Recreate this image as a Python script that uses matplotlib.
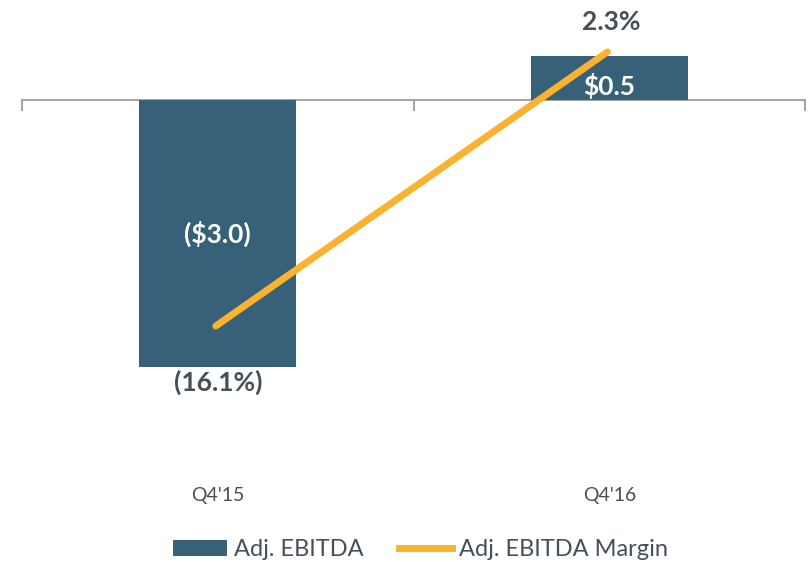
import numpy as np
import matplotlib.pyplot as plt
from matplotlib.lines import Line2D
from matplotlib.patches import Patch

plt.rcParams['font.family'] = ['Lato', 'DejaVu Sans']

quarters = ["Q4'15", "Q4'16"]
ebitda = [-3.0, 0.5]
ebitda_labels = ['($3.0)', '$0.5']
margin = [-16.1, 2.3]
margin_labels = ['(16.1%)', '2.3%']

bar_color = '#376079'
line_color = '#FBB22E'
text_color = '#44505A'
axis_color = '#A6A6A6'

fig = plt.figure(figsize=(8.09, 5.62), dpi=100)
ax = fig.add_axes([0.0272, 0.1886, 0.968, 0.7918])
x = np.arange(len(quarters))

ax.bar(x, ebitda, width=0.4, color=bar_color, zorder=2)
ax.set_xlim(-0.5, 1.5)
ax.set_ylim(-4, 1)

# category axis drawn through zero with boundary ticks
for s in ['top', 'right', 'left']:
    ax.spines[s].set_visible(False)
ax.spines['bottom'].set_position(('data', 0))
ax.spines['bottom'].set_color(axis_color)
ax.spines['bottom'].set_linewidth(1.5)
ax.spines['bottom'].set_zorder(1)
ax.set_xticks([-0.5, 0.5, 1.5])
ax.set_xticklabels([])
ax.tick_params(axis='x', direction='out', length=8, width=1.5, color=axis_color)
ax.set_yticks([])

for i, q in enumerate(quarters):
    ax.text(x[i], -0.088, q, transform=ax.get_xaxis_transform(),
            ha='center', va='center', fontsize=14, color=text_color)

# bar value labels
ax.text(x[0], ebitda[0] / 2, ebitda_labels[0], ha='center', va='center',
        color='white', fontsize=19, fontweight='bold', zorder=4)
ax.text(x[1], ebitda[1] * 0.32, ebitda_labels[1], ha='center', va='center',
        color='white', fontsize=19, fontweight='bold', zorder=4)

ax2 = ax.twinx()
ax2.plot(x - 0.005, margin, color=line_color, lw=5, solid_capstyle='round', zorder=3)
ax2.set_ylim(-24.83, 5.05)
ax2.axis('off')
ax2.text(x[0], margin[0] - 3.8, margin_labels[0], ha='center', va='center',
         color=text_color, fontsize=19, fontweight='bold')
ax2.text(x[1] + 0.005, margin[1] + 2.0, margin_labels[1], ha='center', va='center',
         color=text_color, fontsize=19, fontweight='bold')

handles = [Patch(facecolor=bar_color, label='Adj. EBITDA'),
           Line2D([0], [0], color=line_color, lw=5, label='Adj. EBITDA Margin')]
leg = fig.legend(handles=handles, loc='center', bbox_to_anchor=(0.52, 0.022),
                 ncol=2, frameon=False, fontsize=17, handlelength=2.25,
                 handleheight=0.7, columnspacing=1.5, handletextpad=0.3)
for t in leg.get_texts():
    t.set_color(text_color)

fig.savefig('out.png', dpi=100)
